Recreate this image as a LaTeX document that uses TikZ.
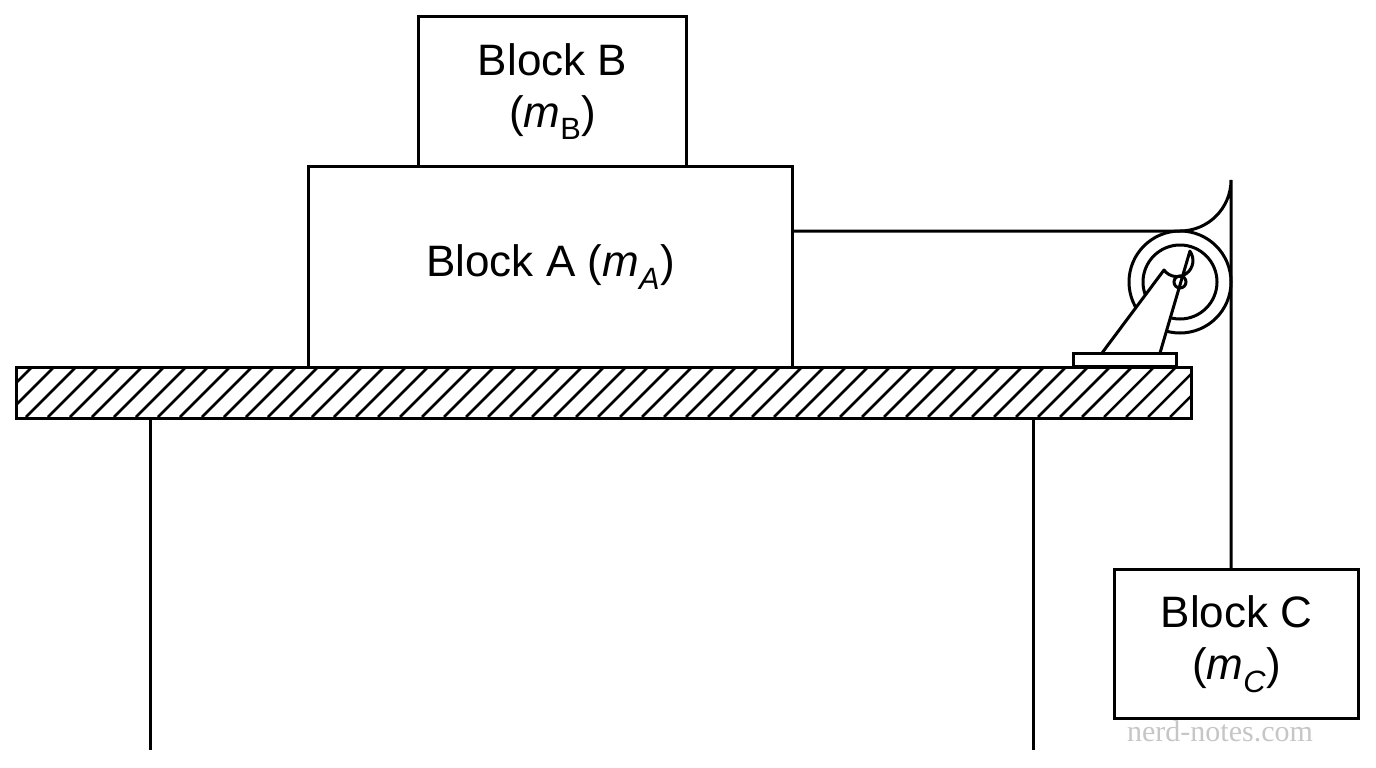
\documentclass[tikz,border=0pt]{standalone}
\usepackage{fontspec}
\setmainfont{Liberation Sans}
\newfontfamily\wmfont{Liberation Serif}
\begin{document}
\begin{tikzpicture}[x=1pt,y=-1pt,line width=3pt,
  blk/.style={draw,line width=3pt,fill=white},
  lbl/.style={font=\fontsize{44}{52}\selectfont,align=center}]
\useasboundingbox (0,0) rectangle (1376,768);
% table legs
\draw (150,417) -- (150,750);
\draw (1033,417) -- (1033,750);
% table top with hatching
\begin{scope}
\clip (15,366) rectangle (1190,417);
\foreach \i in {0,...,60} {\draw[line width=2.5pt] (\i*22-40,417) -- (\i*22+11,366);}
\end{scope}
\node[draw,line width=3pt,minimum width=1175pt,minimum height=51pt,inner sep=0,anchor=north west] (table) at (15,366) {};
% blocks
\node[blk,minimum width=484pt,minimum height=201pt,inner sep=0,anchor=north west] (A) at (307,165) {};
\node[lbl] at (A.center) {Block A (\textit{m\textsubscript{A}})};
\node[blk,minimum width=268pt,minimum height=150pt,inner sep=0,anchor=north west] (B) at (417,15) {};
\node[lbl] at (B.center) {Block B\\(\textit{m}\textsubscript{B})};
\node[blk,minimum width=244pt,minimum height=149pt,inner sep=0,anchor=north west] (C) at (1113,568) {};
\node[lbl] at (C.center) {Block C\\(\textit{m\textsubscript{C}})};
% pulley
\coordinate (P) at (1180,282);
\draw (P) circle (51);
\draw (P) circle (37);
% bracket
\draw[fill=white,line join=round] (1102,353) -- (1164,270) arc (144:-36:16) -- (1160,353);
\draw (P) circle (6);
\draw[fill=white] (1073,353) rectangle (1176,366);
% rope
\coordinate (R) at (1231,568);
\draw (A.east |- 0,231) -- (1180,231) arc (90:0:51) -- (C.north -| R);
% watermark
\node[font=\wmfont\fontsize{30}{30}\selectfont,text=gray!45] at (1220,731) {nerd-notes.com};
\end{tikzpicture}
\end{document}
